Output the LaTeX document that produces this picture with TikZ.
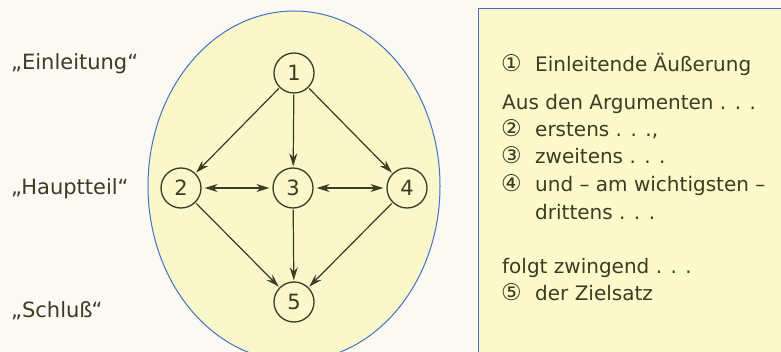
\documentclass[tikz,border=0pt]{standalone}
\usepackage{fontspec}
\setmainfont{DejaVu Sans}
\newfontfamily\symfont{DejaVu Sans}
\usetikzlibrary{arrows.meta}
\definecolor{paper}{RGB}{250,249,243}
\definecolor{ellfill}{RGB}{250,247,203}
\definecolor{boxfill}{RGB}{252,249,202}
\definecolor{frameblue}{RGB}{68,114,196}
\definecolor{ink}{RGB}{62,58,36}
\tikzset{
  stage/.style={circle,draw=ink,line width=1.3pt,minimum size=40pt,inner sep=0pt,font=\fontsize{21}{21}\selectfont,text=ink},
  flow/.style={draw=ink,line width=1.2pt,-{Stealth[length=13pt,width=8pt]},shorten >=1pt,shorten <=1pt},
  both/.style={draw=ink,line width=1.2pt,{Stealth[length=13pt,width=8pt]}-{Stealth[length=13pt,width=8pt]},shorten >=3pt,shorten <=3pt},
  sidelabel/.style={anchor=base west,inner sep=0pt,font=\fontsize{21}{21}\selectfont,text=ink},
  boxline/.style={anchor=base west,inner sep=0pt,font=\fontsize{20}{20}\selectfont,text=ink},
  numsym/.style={anchor=base west,inner sep=0pt,font=\symfont\fontsize{23}{23}\selectfont,text=ink}
}
\begin{document}
\begin{tikzpicture}[x=1pt,y=1pt]
\useasboundingbox (0,0) rectangle (781,-352);
\fill[paper] (0,0) rectangle (781,-352);
\begin{scope}
\clip (0,0) rectangle (781,-352);
\draw[frameblue,fill=ellfill,line width=1pt] (294,-186) ellipse [x radius=146,y radius=175];
\draw[frameblue,fill=boxfill,line width=1pt] (478,-9) rectangle (800,-370);
\end{scope}
% side labels
\node[sidelabel] (le) at (11,-70) {„Einleitung“};
\node[sidelabel] (lh) at (11,-195) {„Hauptteil“};
\node[sidelabel] (ls) at (11,-317) {„Schluß“};
% nodes
\node[stage] (n1) at (294,-73) {1};
\node[stage] (n2) at (181,-188) {2};
\node[stage] (n3) at (293,-188) {3};
\node[stage] (n4) at (407,-188) {4};
\node[stage] (n5) at (294,-302) {5};
\draw[flow] (n1) -- (n2);
\draw[flow] (n1) -- (n3);
\draw[flow] (n1) -- (n4);
\draw[flow] (n2) -- (n5);
\draw[flow] (n3) -- (n5);
\draw[flow] (n4) -- (n5);
\draw[both] (n2) -- (n3);
\draw[both] (n3) -- (n4);
% box text
\node[numsym] (s1) at (501,-72) {①};
\node[boxline] (t1) at (535,-72) {Einleitende Äußerung};
\node[boxline] (t0) at (502,-110) {Aus den Argumenten . . .};
\node[numsym] (s2) at (501,-137) {②};
\node[boxline] (t2) at (535,-137) {erstens . . .,};
\node[numsym] (s3) at (501,-164) {③};
\node[boxline] (t3) at (535,-164) {zweitens . . .};
\node[numsym] (s4) at (501,-192) {④};
\node[boxline] (t4) at (535,-192) {und – am wichtigsten –};
\node[boxline] (t4b) at (535,-220) {drittens . . .};
\node[boxline] (t5a) at (502,-274) {folgt zwingend . . .};
\node[numsym] (s5) at (501,-301) {⑤};
\node[boxline] (t5) at (535,-301) {der Zielsatz};
\end{tikzpicture}
\end{document}
